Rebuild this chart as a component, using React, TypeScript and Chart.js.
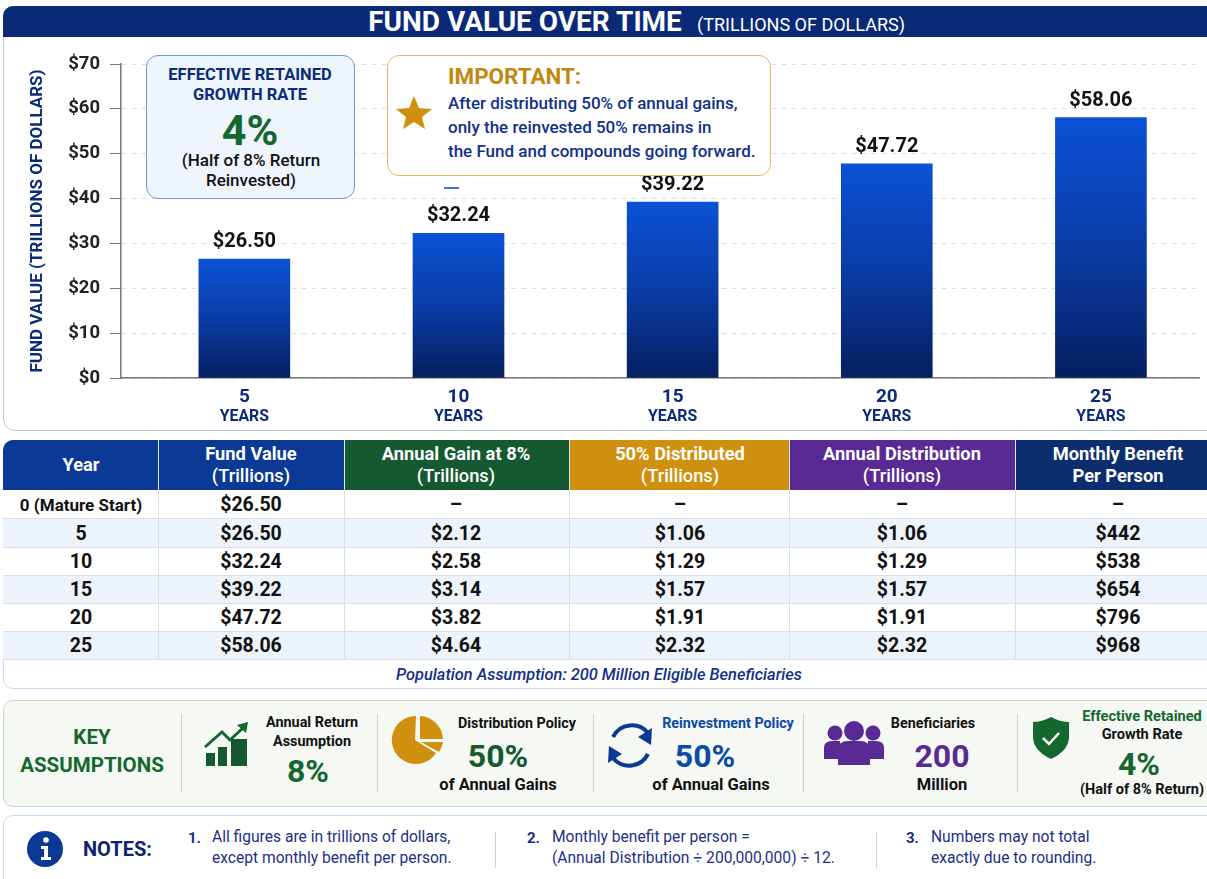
import React, { useEffect, useRef } from "react";
import { Chart, registerables } from "chart.js";

Chart.register(...registerables);

const years = [5, 10, 15, 20, 25];
const fundValues = [26.5, 32.24, 39.22, 47.72, 58.06];
const valueLabels = ["$26.50", "$32.24", "$39.22", "$47.72", "$58.06"];
const yTicks = [0, 10, 20, 30, 40, 50, 60, 70];

const tableHeaders = [
  ["Year"],
  ["Fund Value", "(Trillions)"],
  ["Annual Gain at 8%", "(Trillions)"],
  ["50% Distributed", "(Trillions)"],
  ["Annual Distribution", "(Trillions)"],
  ["Monthly Benefit", "Per Person"],
];
const headerColors = ["#0b3a96", "#0b3a96", "#14592f", "#d0900f", "#5a2a94", "#0c2d6e"];
const columnEdges = [3, 158, 344, 569, 789, 1015, 1207];
const columnCenters = [81, 251, 456, 680, 902, 1118];
const rowEdges = [490, 519, 548, 576, 604, 632, 660];
const yearColumn = ["0 (Mature Start)", "5", "10", "15", "20", "25"];
const fundColumn = ["$26.50", "$26.50", "$32.24", "$39.22", "$47.72", "$58.06"];
const gainColumn = ["–", "$2.12", "$2.58", "$3.14", "$3.82", "$4.64"];
const distributedColumn = ["–", "$1.06", "$1.29", "$1.57", "$1.91", "$2.32"];
const annualColumn = ["–", "$1.06", "$1.29", "$1.57", "$1.91", "$2.32"];
const monthlyColumn = ["–", "$442", "$538", "$654", "$796", "$968"];
const tableColumns = [yearColumn, fundColumn, gainColumn, distributedColumn, annualColumn, monthlyColumn];

const FONT = "Roboto, sans-serif";
const NAVY = "#0b2a78";
const GREEN = "#14672f";
const GOLD = "#d0900f";
const BLUE = "#0b4aa6";
const PURPLE = "#5a2a94";

type TP = {
  x: number; y: number; s: number; c?: string; w?: number; a?: "c" | "l"; children: React.ReactNode; st?: React.CSSProperties;
};
function T({ x, y, s, c = "#111", w = 700, a = "c", children, st }: TP) {
  return (
    <div
      style={{
        position: "absolute", left: x, top: y, fontSize: s, color: c, fontWeight: w, fontFamily: FONT,
        whiteSpace: "nowrap", lineHeight: 1,
        transform: a === "c" ? "translate(-50%,-50%)" : "translateY(-50%)", ...st,
      }}
    >
      {children}
    </div>
  );
}

const Box = (l: number, t: number, w: number, h: number, st: React.CSSProperties) => (
  <div style={{ position: "absolute", left: l, top: t, width: w, height: h, boxSizing: "border-box", ...st }} />
);

const barLabels = {
  id: "barLabels",
  afterDatasetsDraw(chart: any) {
    const { ctx } = chart;
    const meta = chart.getDatasetMeta(0);
    ctx.save();
    ctx.textAlign = "center";
    ctx.textBaseline = "middle";
    meta.data.forEach((bar: any, i: number) => {
      ctx.font = `700 20px ${FONT}`;
      ctx.fillStyle = "#111";
      ctx.fillText(valueLabels[i], bar.x, bar.y - 17);
    });
    const sx = chart.scales.x;
    ctx.font = `700 15.8px ${FONT}`;
    ctx.fillStyle = NAVY;
    years.forEach((v) => ctx.fillText("YEARS", sx.getPixelForValue(v), 417));
    ctx.restore();
  },
};

function FundChart() {
  const ref = useRef<HTMLCanvasElement>(null);
  useEffect(() => {
    const chart = new Chart(ref.current as HTMLCanvasElement, {
      type: "bar",
      plugins: [barLabels],
      data: {
        datasets: [
          {
            data: years.map((x, i) => ({ x, y: fundValues[i] })),
            barThickness: 91,
            backgroundColor: (c: any) => {
              const sy = c.chart.scales.y;
              if (c.dataIndex === undefined || !sy) return "#0a3fae";
              const top = sy.getPixelForValue(fundValues[c.dataIndex]);
              const bottom = sy.getPixelForValue(0);
              if (!Number.isFinite(top) || !Number.isFinite(bottom)) return "#0a3fae";
              const g = c.chart.ctx.createLinearGradient(0, top, 0, bottom);
              g.addColorStop(0, "#0a52d6");
              g.addColorStop(0.5, "#0a3ca6");
              g.addColorStop(1, "#051f60");
              return g;
            },
          },
        ],
      } as any,
      options: {
        animation: false,
        responsive: false,
        maintainAspectRatio: false,
        layout: { padding: { top: 64, left: 28, right: 8, bottom: 0 } },
        plugins: { legend: { display: false }, tooltip: { enabled: false }, title: { display: false } },
        scales: {
          x: {
            type: "linear",
            offset: false,
            min: 2.12,
            max: 27.29,
            grid: { display: false, offset: false },
            border: { color: "#777", width: 1.5 },
            afterBuildTicks: (s: any) => { s.ticks = years.map((value) => ({ value })); },
            afterFit: (s: any) => { s.height = 53; },
            ticks: {
              autoSkip: false, maxRotation: 0, padding: 0,
              color: NAVY, font: { family: FONT, size: 19, weight: "700" },
              callback: (v: any) => String(v),
            },
          },
          y: {
            min: 0,
            max: 70,
            afterBuildTicks: (s: any) => { s.ticks = yTicks.map((value) => ({ value })); },
            afterFit: (s: any) => { s.width = 93; },
            border: { color: "#777", width: 1.5, dash: [5, 5] },
            grid: { color: "#dedede", lineWidth: 1, tickColor: "#777", tickLength: 11, tickBorderDash: [] as any },
            title: {
              display: true, text: "FUND VALUE (TRILLIONS OF DOLLARS)", color: NAVY,
              padding: { top: 0, bottom: 0 },
              font: { family: FONT, size: 17, weight: "700" },
            },
            ticks: {
              padding: 10, color: "#222", font: { family: FONT, size: 18.5, weight: "700" },
              callback: (v: any) => `$${v}`,
            },
          },
        },
      } as any,
    });
    return () => chart.destroy();
  }, []);
  return <canvas ref={ref} width={1207} height={431} style={{ position: "absolute", left: 0, top: 0, width: 1207, height: 431 }} />;
}

function DataTable() {
  const head: React.ReactNode[] = [];
  tableHeaders.forEach((lines, i) => {
    const l = columnEdges[i], r = columnEdges[i + 1];
    head.push(
      <div key={"h" + i} style={{
        position: "absolute", left: l, top: 440, width: r - l, height: 50, background: headerColors[i],
        borderLeft: i ? "1px solid #dfe6f2" : undefined, boxSizing: "border-box",
        borderTopLeftRadius: i === 0 ? 10 : 0,
      }} />
    );
    lines.forEach((line, j) => {
      head.push(
        <T key={`t${i}${j}`} x={columnCenters[i]} y={lines.length === 1 ? 465 : 454 + j * 22} s={18.3} c="#fff" w={lines.length > 1 && j === 1 && i !== 5 ? 500 : 700}>{line}</T>
      );
    });
  });
  const rows: React.ReactNode[] = [];
  yearColumn.forEach((_, r) => {
    const t = rowEdges[r], b = rowEdges[r + 1];
    rows.push(
      <div key={"r" + r} style={{
        position: "absolute", left: 3, top: t, width: 1204, height: b - t, boxSizing: "border-box",
        background: r % 2 ? "#edf3fa" : "#fff", borderBottom: "1px solid #d6dfea",
      }} />
    );
    tableColumns.forEach((col, c) => {
      rows.push(
        <T key={`c${r}${c}`} x={columnCenters[c]} y={(t + b) / 2} s={c === 0 && r === 0 ? 17 : 19.5} w={700}>{col[r]}</T>
      );
    });
  });
  const seps = columnEdges.slice(1, 6).map((x, i) => (
    <div key={"s" + i} style={{ position: "absolute", left: x, top: 490, width: 1, height: 170, background: "#d6dfea" }} />
  ));
  return (
    <>
      {Box(3, 440, 1216, 249, { border: "1px solid #c8d6e8", borderRadius: 10 })}
      {head}
      {rows}
      {seps}
      <T x={599} y={675} s={16.4} c="#12308a" w={500} st={{ fontStyle: "italic" }}>Population Assumption: 200 Million Eligible Beneficiaries</T>
    </>
  );
}

const Divider = (x: number, t: number, b: number, c = "#c9cfc9") => (
  <div style={{ position: "absolute", left: x, top: t, width: 1, height: b - t, background: c }} />
);

function Icons() {
  return (
    <svg width={1207} height={879} style={{ position: "absolute", left: 0, top: 0, pointerEvents: "none" }}>
      <polygon fill={GOLD} points="414,96 419,108 432,109 422,117 425,129 414,122 403,129 406,117 396,109 409,108" />
      <g fill="#14592f">
        <rect x={206} y={753} width={9} height={13} />
        <rect x={218} y={747} width={9} height={19} />
        <rect x={231} y={739} width={16} height={27} />
      </g>
      <polyline points="205,747 222,732 230,740 244,727" fill="none" stroke={GREEN} strokeWidth={3} />
      <polygon points="248,722 237,725 246,733" fill={GREEN} />
      <path d="M416,716 A24,24 0 1 0 436,753 L415,740 Z" fill={GOLD} />
      <path d="M420,716 A24,24 0 0 1 443,739 L420,739 Z" fill={GOLD} />
      <path d="M421,742 L443,742 A24,24 0 0 1 439,752 Z" fill={GOLD} />
      <g fill="none" stroke="#0c3a92" strokeWidth={4}>
        <path d="M613,737 A21,21 0 0 1 648,733" />
        <path d="M648,754 A21,21 0 0 1 613,758" />
      </g>
      <polygon points="652,728 651,745 638,737" fill="#0c3a92" />
      <polygon points="608,763 609,746 622,754" fill="#0c3a92" />
      <g fill={PURPLE}>
        <circle cx={854} cy={731} r={10} />
        <circle cx={835} cy={733} r={7.5} />
        <circle cx={873} cy={733} r={7.5} />
        <path d="M824,759 L824,748 Q824,741 832,741 L840,741 L840,759 Z" />
        <path d="M884,759 L884,748 Q884,741 876,741 L868,741 L868,759 Z" />
        <path d="M838,765 L838,750 Q838,741 848,741 L860,741 Q870,741 870,750 L870,765 Z" />
      </g>
      <path d="M1051,717 Q1060,722 1069,722 L1069,738 Q1068,751 1051,759 Q1034,751 1033,738 L1033,722 Q1042,722 1051,717 Z" fill="#14672f" />
      <polyline points="1043,738 1049,744 1059,733" fill="none" stroke="#fff" strokeWidth={2.5} />
      <circle cx={45} cy={849} r={18} fill="#0b3a96" />
      <circle cx={46} cy={840} r={2.8} fill="#fff" />
      <path d="M41,846 L48,846 L48,857 L51,857 L51,860 L41,860 L41,857 L44,857 L44,849 L41,849 Z" fill="#fff" />
    </svg>
  );
}

export default function App() {
  useEffect(() => {
    document.body.style.margin = "0";
    document.documentElement.style.overflow = "hidden";
  }, []);
  const noteC = "#1c2f88";
  return (
    <div style={{ position: "fixed", left: 0, top: 0, width: 1207, height: 879, overflow: "hidden", background: "#fff", fontFamily: FONT }}>
      {Box(3, 6, 1216, 425, { border: "1.5px solid #b8c8de", borderRadius: "10px 10px 10px 12px" })}
      {Box(3, 6, 1216, 31, { background: "#0a2a78", borderRadius: "10px 0 0 0" })}
      <T x={525} y={22} s={28} c="#fff" w={700}>FUND VALUE OVER TIME</T>
      <T x={801} y={25} s={18} c="#fff" w={400}>(TRILLIONS OF DOLLARS)</T>

      <FundChart />

      {Box(146, 55, 209, 144, { border: "1.5px solid #6a9ad8", background: "#eef5fc", borderRadius: 12 })}
      <T x={250} y={75} s={16.5} c={NAVY}>EFFECTIVE RETAINED</T>
      <T x={250} y={95} s={16.5} c={NAVY}>GROWTH RATE</T>
      <T x={250} y={130} s={43} c={GREEN}>4%</T>
      <T x={251} y={160} s={17} w={500}>(Half of 8% Return</T>
      <T x={251} y={180} s={17} w={500}>Reinvested)</T>

      {Box(387, 55, 384, 121, { border: "1.5px solid #e3b556", background: "#fff", borderRadius: 12 })}
      <T x={448} y={76} s={22.4} c="#c2870f" a="l">IMPORTANT:</T>
      <T x={448} y={103} s={17} c="#12308a" w={500} a="l">After distributing 50% of annual gains,</T>
      <T x={448} y={127} s={17} c="#12308a" w={500} a="l">only the reinvested 50% remains in</T>
      <T x={448} y={151} s={17} c="#12308a" w={500} a="l">the Fund and compounds going forward.</T>
      {Box(444, 187, 15, 2, { background: "#3a78d0" })}

      <DataTable />

      {Box(3, 700, 1216, 107, { border: "1.5px solid #c5d9c5", background: "#f5f8f3", borderRadius: 10 })}
      <T x={92} y={737} s={20.5} c={GREEN}>KEY</T>
      <T x={92} y={765} s={20.5} c={GREEN}>ASSUMPTIONS</T>
      {Divider(181, 714, 792)}
      <T x={312} y={723} s={14.4}>Annual Return</T>
      <T x={312} y={742} s={14.4}>Assumption</T>
      <T x={308} y={771} s={32} c={GREEN}>8%</T>
      {Divider(377, 714, 792)}
      <T x={517} y={723} s={14.3}>Distribution Policy</T>
      <T x={498} y={756} s={32} c="#14592f">50%</T>
      <T x={498} y={785} s={16.5}>of Annual Gains</T>
      {Divider(593, 714, 792)}
      <T x={728} y={723} s={14.3} c={BLUE}>Reinvestment Policy</T>
      <T x={705} y={756} s={32} c={BLUE}>50%</T>
      <T x={711} y={785} s={16.5}>of Annual Gains</T>
      {Divider(803, 714, 792)}
      <T x={933} y={723} s={14.3}>Beneficiaries</T>
      <T x={942} y={756} s={32} c={PURPLE}>200</T>
      <T x={942} y={785} s={16.5}>Million</T>
      {Divider(1017, 714, 792)}
      <T x={1142} y={716} s={14.6} c={GREEN}>Effective Retained</T>
      <T x={1142} y={734} s={14.6}>Growth Rate</T>
      <T x={1139} y={764} s={32} c={GREEN}>4%</T>
      <T x={1142} y={790} s={14.5}>(Half of 8% Return)</T>

      {Box(3, 815, 1216, 80, { border: "1.5px solid #c8d8ec", background: "#fff", borderRadius: 10 })}
      <T x={83} y={849} s={20} c="#0b2470" a="l">NOTES:</T>
      <T x={188} y={838} s={15} c={noteC} w={700} a="l">1.</T>
      <T x={212} y={838} s={15.6} c={noteC} w={400} a="l">All figures are in trillions of dollars,</T>
      <T x={212} y={859} s={15.6} c={noteC} w={400} a="l">except monthly benefit per person.</T>
      {Divider(495, 832, 868, "#ccd3da")}
      <T x={527} y={838} s={15} c={noteC} w={700} a="l">2.</T>
      <T x={552} y={838} s={15.6} c={noteC} w={400} a="l">Monthly benefit per person =</T>
      <T x={552} y={859} s={15.6} c={noteC} w={400} a="l">(Annual Distribution ÷ 200,000,000) ÷ 12.</T>
      {Divider(876, 832, 868, "#ccd3da")}
      <T x={906} y={838} s={15} c={noteC} w={700} a="l">3.</T>
      <T x={931} y={838} s={15.6} c={noteC} w={400} a="l">Numbers may not total</T>
      <T x={931} y={859} s={15.6} c={noteC} w={400} a="l">exactly due to rounding.</T>

      <Icons />
    </div>
  );
}
